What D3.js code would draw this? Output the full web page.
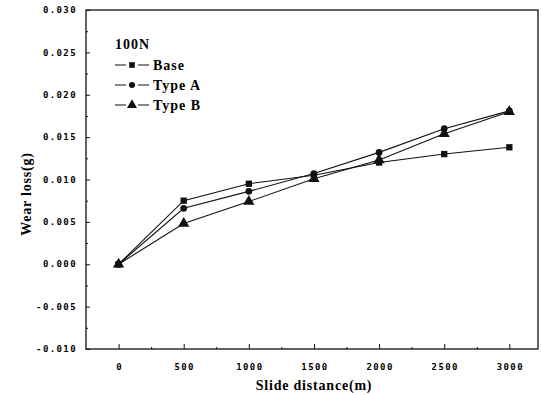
<!DOCTYPE html>
<html>
<head>
<meta charset="utf-8">
<script src="https://cdn.jsdelivr.net/npm/d3@7"></script>
<style>
  body { margin: 0; background: #fff; }
  .tick-label { font-family: "DejaVu Sans Mono", monospace; font-size: 9px; font-weight: bold; letter-spacing: 1.4px; fill: #000; }
  .title { font-family: "Liberation Serif", serif; font-weight: bold; font-size: 14px; letter-spacing: 0.8px; fill: #000; }
  .legend { font-family: "Liberation Serif", serif; font-weight: bold; font-size: 14px; fill: #000; letter-spacing: 1px; }
</style>
</head>
<body>
<div id="chart"></div>
<script>
// data
const distances = [0, 500, 1000, 1500, 2000, 2500, 3000];
const baseLoss  = [0.0000, 0.0075, 0.0095, 0.0105, 0.0120, 0.0130, 0.0138];
const typeALoss = [0.0000, 0.0066, 0.0086, 0.0107, 0.0132, 0.0160, 0.0181];
const typeBLoss = [0.0000, 0.0048, 0.0074, 0.0101, 0.0123, 0.0154, 0.0180];
const xTicks = [0, 500, 1000, 1500, 2000, 2500, 3000];
const yTicks = [-0.010, -0.005, 0.000, 0.005, 0.010, 0.015, 0.020, 0.025, 0.030];
const seriesNames = ['Base', 'Type A', 'Type B'];
const legendTitle = '100N';

const width = 541, height = 395;
const margin = {top: 10, right: 3, bottom: 46, left: 86};

const svg = d3.select('#chart').append('svg')
  .attr('width', width)
  .attr('height', height);

const x = d3.scaleLinear()
  .domain([-250, 3220])
  .range([margin.left, width - margin.right]);

const y = d3.scaleLinear()
  .domain([-0.010, 0.030])
  .range([height - margin.bottom, margin.top]);

// frame
svg.append('rect')
  .attr('x', margin.left)
  .attr('y', margin.top)
  .attr('width', width - margin.right - margin.left)
  .attr('height', height - margin.bottom - margin.top)
  .attr('fill', 'none')
  .attr('stroke', '#111')
  .attr('stroke-width', 1.3);

// y axis (ticks inside)
const yAxis = svg.append('g')
  .attr('transform', `translate(${margin.left},0)`)
  .call(d3.axisRight(y).tickValues(yTicks).tickSize(4).tickFormat(''));
yAxis.select('.domain').remove();
yAxis.selectAll('line').attr('stroke', '#111');

const yMinor = d3.range(-0.0075, 0.030, 0.005);
svg.append('g')
  .attr('transform', `translate(${margin.left},0)`)
  .call(d3.axisRight(y).tickValues(yMinor).tickSize(2).tickFormat(''))
  .call(g => g.select('.domain').remove())
  .selectAll('line').attr('stroke', '#111');

svg.append('g').selectAll('text')
  .data(yTicks)
  .join('text')
  .attr('class', 'tick-label')
  .attr('x', margin.left - 9)
  .attr('y', d => y(d))
  .attr('dy', '0.35em')
  .attr('text-anchor', 'end')
  .text(d => d3.format('.3f')(d).replace('−', '-'));

// x axis (ticks inside)
const xAxis = svg.append('g')
  .attr('transform', `translate(0,${height - margin.bottom})`)
  .call(d3.axisTop(x).tickValues(xTicks).tickSize(5).tickFormat(''));
xAxis.select('.domain').remove();
xAxis.selectAll('line').attr('stroke', '#111');

svg.append('g')
  .attr('transform', `translate(0,${height - margin.bottom})`)
  .call(d3.axisTop(x).tickValues(d3.range(250, 3250, 500)).tickSize(2).tickFormat(''))
  .call(g => g.select('.domain').remove())
  .selectAll('line').attr('stroke', '#111');

svg.append('g').selectAll('text')
  .data(xTicks)
  .join('text')
  .attr('class', 'tick-label')
  .attr('x', d => x(d) + 1)
  .attr('y', height - margin.bottom + 21)
  .attr('text-anchor', 'middle')
  .text(d => d);

// axis titles
svg.append('text')
  .attr('class', 'title')
  .attr('x', 314)
  .attr('y', 390)
  .attr('text-anchor', 'middle')
  .text('Slide distance(m)');

svg.append('text')
  .attr('class', 'title')
  .attr('transform', 'translate(31,194) rotate(-90)')
  .attr('text-anchor', 'middle')
  .text('Wear loss(g)');

// series
const series = [
  {name: seriesNames[0], values: baseLoss, symbol: d3.symbolSquare, size: 40},
  {name: seriesNames[1], values: typeALoss, symbol: d3.symbolCircle, size: 36},
  {name: seriesNames[2], values: typeBLoss, symbol: d3.symbolTriangle, size: 55}
];

const line = d3.line()
  .x((d, i) => x(distances[i]))
  .y(d => y(d));

series.forEach(s => {
  svg.append('path')
    .datum(s.values)
    .attr('d', line)
    .attr('fill', 'none')
    .attr('stroke', '#111')
    .attr('stroke-width', 1.1);

  svg.append('g').selectAll('path')
    .data(s.values)
    .join('path')
    .attr('transform', (d, i) => `translate(${x(distances[i])},${y(d)})`)
    .attr('d', d3.symbol().type(s.symbol).size(s.size))
    .attr('fill', '#111');
});

// legend
svg.append('text')
  .attr('class', 'legend')
  .attr('x', 115)
  .attr('y', 49)
  .text(legendTitle);

const legend = svg.append('g')
  .selectAll('g')
  .data(series)
  .join('g')
  .attr('transform', (d, i) => `translate(115,${65 + i * 20})`);

legend.append('line')
  .attr('x1', 0).attr('x2', 34)
  .attr('y1', 0).attr('y2', 0)
  .attr('stroke', '#111')
  .attr('stroke-width', 1.1);

legend.append('rect')
  .attr('x', 11).attr('y', -4)
  .attr('width', 12).attr('height', 8)
  .attr('fill', '#fff');

legend.append('path')
  .attr('transform', 'translate(17,0)')
  .attr('d', d => d3.symbol().type(d.symbol).size(d.size * 0.8)())
  .attr('fill', '#111');

legend.append('text')
  .attr('class', 'legend')
  .attr('x', 38)
  .attr('y', 5)
  .text(d => d.name);
</script>
</body>
</html>
